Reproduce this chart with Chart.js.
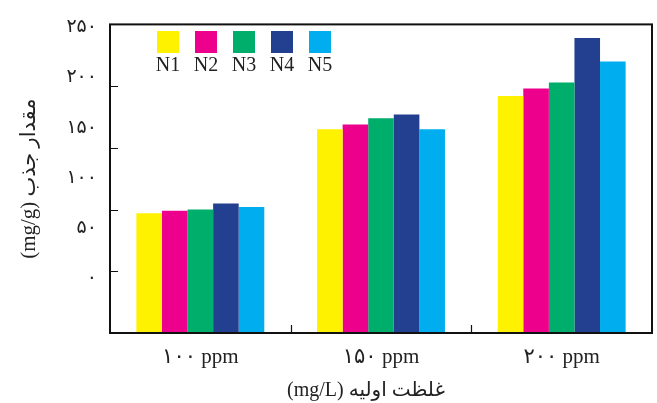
<!DOCTYPE html>
<html lang="fa">
<head>
<meta charset="utf-8">
<script src="https://cdn.jsdelivr.net/npm/chart.js@4.4.1/dist/chart.umd.min.js"></script>
<style>
  body { margin: 0; background: #fff; }
  #wrap { position: relative; width: 657px; height: 403px; }
  #legend { position: absolute; left: 157px; top: 31px; display: flex; gap: 16px; }
  .leg { width: 22px; display: flex; flex-direction: column; align-items: center;
         font: 20px 'Liberation Serif', serif; color: #222; }
  .leg-sw { width: 22px; height: 22px; }
  .leg span { margin-top: 1px; line-height: 20px; white-space: nowrap; }
</style>
</head>
<body>
<div id="wrap">
  <canvas id="chart" width="657" height="403"></canvas>
  <div id="legend"></div>
</div>
<script>
// ── data ──────────────────────────────────────────────
const categories   = ['۱۰۰ ppm', '۱۵۰ ppm', '۲۰۰ ppm'];
const seriesNames  = ['N1', 'N2', 'N3', 'N4', 'N5'];
const seriesColors = ['#FFF200', '#EC008C', '#00AE6B', '#233F8F', '#00AEEF'];
const n1 = [97, 165, 192];
const n2 = [99, 169, 198];
const n3 = [100, 174, 203];
const n4 = [105, 177, 239];
const n5 = [102, 165, 220];
const yTicks      = [0, 50, 100, 150, 200, 250];
const yTickLabels = ['۰', '۵۰', '۱۰۰', '۱۵۰', '۲۰۰', '۲۵۰'];
const yTitle = '(mg/g) مقدار جذب';
const xTitle = '(mg/L) غلظت اولیه';

const seriesData = [n1, n2, n3, n4, n5];

Chart.defaults.font.family = "'Liberation Serif', 'DejaVu Sans', serif";
Chart.defaults.color = '#222';

// frame + inward tick marks
const frame = {
  id: 'frame',
  afterDraw(chart) {
    const { ctx, chartArea: a, scales: { x, y } } = chart;
    ctx.save();
    ctx.strokeStyle = '#111';
    ctx.lineWidth = 2;
    ctx.strokeRect(a.left, a.top, a.right - a.left, a.bottom - a.top);
    ctx.lineWidth = 1.2;
    ctx.beginPath();
    yTicks.forEach(v => {
      const py = Math.round(y.getPixelForValue(v)) + 0.5;
      ctx.moveTo(a.left, py); ctx.lineTo(a.left + 8, py);
    });
    for (let i = 0; i < categories.length - 1; i++) {
      const px = Math.round((x.getPixelForValue(i) + x.getPixelForValue(i + 1)) / 2) + 0.5;
      ctx.moveTo(px, a.bottom); ctx.lineTo(px, a.bottom - 8);
    }
    ctx.stroke();
    ctx.restore();
  }
};

// legend: swatch above label
document.getElementById('legend').innerHTML = seriesNames.map((n, i) =>
  `<div class="leg"><div class="leg-sw" style="background:${seriesColors[i]}"></div><span>${n}</span></div>`
).join('');

new Chart(document.getElementById('chart'), {
  type: 'bar',
  data: {
    labels: categories,
    datasets: seriesNames.map((n, i) => ({
      label: n,
      data: seriesData[i],
      backgroundColor: seriesColors[i],
      borderWidth: 0,
      yAxisID: 'y',
      categoryPercentage: 0.708,
      barPercentage: 1.0,
    })),
  },
  options: {
    responsive: false, animation: false,
    layout: { padding: { top: 20, right: 5, left: 0, bottom: 0 } },
    plugins: { legend: { display: false }, tooltip: { enabled: false } },
    scales: {
      x: {
        grid: { display: false, drawTicks: false },
        border: { display: false },
        ticks: { padding: 12, font: { size: 21 }, color: '#222' },
        // trailing spaces nudge the centred title left, as in the source figure
        title: { display: true, text: xTitle + '      ', font: { size: 20 }, color: '#222',
                 padding: { top: 0, bottom: 0 } },
        afterFit: s => { s.height = 70; },
      },
      y: {
        display: false, min: 0, max: 250,
      },
      yLab: {
        type: 'linear', position: 'left', min: -55, max: 253,
        grid: { display: false, drawTicks: false },
        border: { display: false },
        afterBuildTicks: s => { s.ticks = yTicks.map(v => ({ value: v })); },
        ticks: { padding: 13, font: { size: 19 }, color: '#222',
                 callback: (v, i) => yTickLabels[i] },
        title: { display: true, text: yTitle, font: { size: 21 }, color: '#222',
                 padding: { top: 17, bottom: 0 } },
        afterFit: s => { s.width = 110; },
      },
    },
  },
  plugins: [frame],
});
</script>
</body>
</html>
